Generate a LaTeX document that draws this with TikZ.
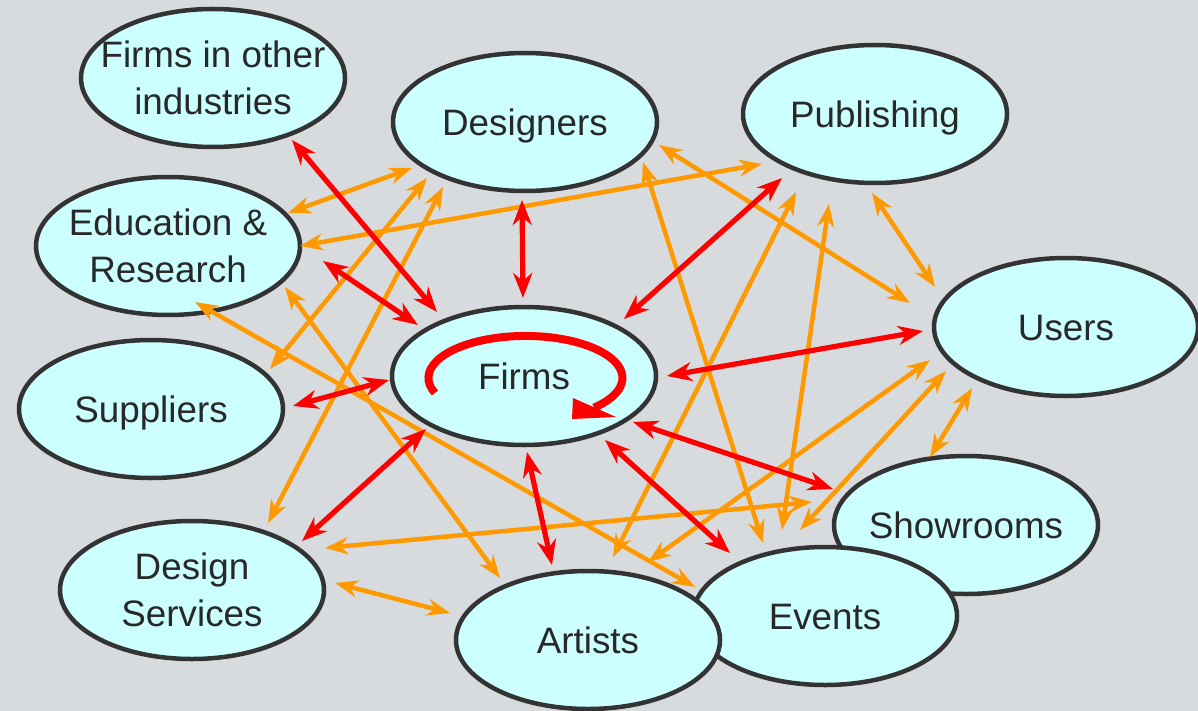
\documentclass[tikz,border=0pt]{standalone}
\usepackage{fontspec}
\setmainfont{Liberation Sans}
\usetikzlibrary{arrows.meta,shapes.geometric}
\definecolor{bgc}{RGB}{216,219,222}
\definecolor{fillc}{RGB}{204,255,255}
\definecolor{edgec}{RGB}{51,51,51}
\definecolor{txtc}{RGB}{40,40,40}
\definecolor{redc}{RGB}{255,0,0}
\definecolor{orc}{RGB}{255,153,0}
\begin{document}
\begin{tikzpicture}[x=1pt,y=-1pt,
  bubble/.style={ellipse, draw=edgec, fill=fillc, line width=4.5pt, minimum width=264pt, minimum height=138pt, inner sep=0pt},
  lbl/.style={font=\fontsize{36.8}{46.7}\selectfont, text=txtc, inner sep=0pt, align=center},
  one/.style={text height=26.3pt, text depth=0pt},
  redtip/.tip={Stealth[length=25pt,width=19pt,inset=8pt]},
  ortip/.tip={Stealth[length=23pt,width=17pt,inset=7.5pt]},
  redarr/.style={draw=redc, line width=5.2pt, redtip-redtip},
  orarr/.style={draw=orc, line width=4.5pt, ortip-ortip}
]
\fill[bgc] (0,0) rectangle (1198,711);
\useasboundingbox (0,0) rectangle (1198,711);

% ellipses
\node[bubble, label={[lbl]center:{Firms in other\\industries}}] (fio) at (213,78) {};
\node[bubble, label={[lbl,one]center:Designers}] (designers) at (525,122) {};
\node[bubble, label={[lbl,one]center:Publishing}] (publishing) at (875,114) {};
\node[bubble, label={[lbl]center:{Education \&\\Research}}] (edu) at (168,246) {};
\node[bubble, label={[lbl,one]center:Users}] (users) at (1066,327) {};
\node[bubble, label={[lbl,one]center:Firms}] (firms) at (524,376) {};
\node[bubble, label={[lbl,one]center:Suppliers}] (suppliers) at (151,409) {};
\node[bubble, label={[lbl]center:{Design\\Services}}] (dserv) at (192,590) {};
\node[bubble, label={[lbl,one]center:Showrooms}] (showrooms) at (966,525) {};
\node[bubble, label={[lbl,one]center:Events}] (events) at (825,616) {};
\node[bubble, label={[lbl,one]center:Artists}] (artists) at (588,640) {};

% connector end points
\coordinate (fio-firms) at (292,140);   \coordinate (firms-fio) at (437,312);
\coordinate (edu-firms) at (323,261);   \coordinate (firms-edu) at (418,325);
\coordinate (des-firms) at (522,200);   \coordinate (firms-des) at (523,298);
\coordinate (pub-firms) at (782,178);   \coordinate (firms-pub) at (624,319);
\coordinate (usr-firms) at (923,331);   \coordinate (firms-usr) at (667,376);
\coordinate (sup-firms) at (293,406);   \coordinate (firms-sup) at (389,380);
\coordinate (dsv-firms) at (302,541);   \coordinate (firms-dsv) at (426,429);
\coordinate (art-firms) at (552,565);   \coordinate (firms-art) at (527,452);
\coordinate (evt-firms) at (730,553);   \coordinate (firms-evt) at (605,440);
\coordinate (shw-firms) at (833,489);   \coordinate (firms-shw) at (633,422);

\coordinate (edu-des) at (288,213);     \coordinate (des-edu) at (412,168);
\coordinate (edu-pub) at (300,246);     \coordinate (pub-edu) at (762,164);
\coordinate (sup-des) at (270,369);     \coordinate (des-sup) at (427,178);
\coordinate (dsv-des) at (268,523);     \coordinate (des-dsv) at (443,187);
\coordinate (edu-evt) at (195,302);     \coordinate (evt-edu) at (695,587);
\coordinate (edu-art) at (285,287);     \coordinate (art-edu) at (500,578);
\coordinate (des-evt) at (643,162);     \coordinate (evt-des) at (763,543);
\coordinate (des-usr) at (659,145);     \coordinate (usr-des) at (910,303);
\coordinate (pub-usr) at (872,193);     \coordinate (usr-pub) at (935,287);
\coordinate (pub-art) at (796,192);     \coordinate (art-pub) at (613,557);
\coordinate (pub-evt) at (829,204);     \coordinate (evt-pub) at (782,530);
\coordinate (dsv-shw) at (325,548);     \coordinate (shw-dsv) at (812,502);
\coordinate (dsv-art) at (335,583);     \coordinate (art-dsv) at (450,613);
\coordinate (usr-art) at (930,360);     \coordinate (art-usr) at (648,562);
\coordinate (usr-evt) at (946,371);     \coordinate (evt-usr) at (800,530);
\coordinate (usr-shw) at (972,388);     \coordinate (shw-usr) at (930,457);

% orange connectors
\draw[orarr] (edu-des) -- (des-edu);
\draw[orarr] (edu-pub) -- (pub-edu);
\draw[orarr] (sup-des) -- (des-sup);
\draw[orarr] (dsv-des) -- (des-dsv);
\draw[orarr] (edu-evt) -- (evt-edu);
\draw[orarr] (edu-art) -- (art-edu);
\draw[orarr] (des-evt) -- (evt-des);
\draw[orarr] (des-usr) -- (usr-des);
\draw[orarr] (pub-usr) -- (usr-pub);
\draw[orarr] (pub-art) -- (art-pub);
\draw[orarr] (pub-evt) -- (evt-pub);
\draw[orarr] (dsv-shw) -- (shw-dsv);
\draw[orarr] (dsv-art) -- (art-dsv);
\draw[orarr] (usr-art) -- (art-usr);
\draw[orarr] (usr-evt) -- (evt-usr);
\draw[orarr] (usr-shw) -- (shw-usr);

% red connectors
\draw[redarr] (fio-firms) -- (firms-fio);
\draw[redarr] (edu-firms) -- (firms-edu);
\draw[redarr] (des-firms) -- (firms-des);
\draw[redarr] (pub-firms) -- (firms-pub);
\draw[redarr] (usr-firms) -- (firms-usr);
\draw[redarr] (sup-firms) -- (firms-sup);
\draw[redarr] (dsv-firms) -- (firms-dsv);
\draw[redarr] (firms-art) -- (art-firms);
\draw[redarr] (firms-evt) -- (evt-firms);
\draw[redarr] (firms-shw) -- (shw-firms);

% self loop inside Firms
\draw[redc, line width=8pt] (434.9,393) arc[start angle=159, end angle=405, x radius=97, y radius=42];
\fill[redc] (573,398) -- (616,417) -- (572,419) -- cycle;
\end{tikzpicture}
\end{document}
